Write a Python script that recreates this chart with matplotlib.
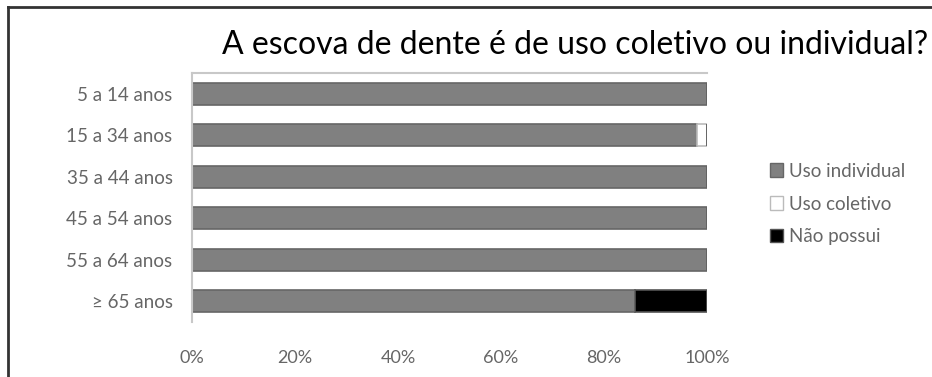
import matplotlib.pyplot as plt
import numpy as np
from matplotlib.patches import Patch
from matplotlib.lines import Line2D

plt.rcParams['font.family'] = ['Lato', 'DejaVu Sans']

faixas = ['5 a 14 anos', '15 a 34 anos', '35 a 44 anos',
          '45 a 54 anos', '55 a 64 anos', '≥ 65 anos']
uso_individual = [100, 98, 100, 100, 100, 86]
uso_coletivo = [0, 2, 0, 0, 0, 0]
nao_possui = [0, 0, 0, 0, 0, 14]

fig = plt.figure(figsize=(9.32, 3.77), dpi=100)
ax = fig.add_axes([192 / 932, 1 - 322 / 377, 515 / 932, 249 / 377])

y = np.arange(len(faixas))
h = 0.54
ind = np.array(uso_individual)
col = np.array(uso_coletivo)
nao = np.array(nao_possui)

ax.barh(y, ind, height=h, color='#808080', edgecolor='#666666', linewidth=1.2,
        label='Uso individual')
ax.barh(y, col, left=ind, height=h, color='white', edgecolor='#bbbbbb',
        linewidth=1.2, label='Uso coletivo')
ax.barh(y, nao, left=ind + col, height=h, color='black', edgecolor='#555555',
        linewidth=1.2, label='Não possui')

ax.set_xlim(0, 100)
ax.set_ylim(len(faixas) - 0.5, -0.5)
ax.set_yticks(y)
ax.set_yticklabels(faixas, fontsize=13.5, color='#666666')
ax.set_xticks(np.arange(0, 101, 20))
ax.set_xticklabels([f'{v}%' for v in range(0, 101, 20)], fontsize=13,
                   color='#666666')
ax.tick_params(axis='both', length=0)
ax.tick_params(axis='x', pad=20)
ax.tick_params(axis='y', pad=14)

for s in ['right', 'bottom']:
    ax.spines[s].set_visible(False)
ax.spines['top'].set_color('#c8c8c8')
ax.spines['left'].set_color('#c8c8c8')
ax.spines['top'].set_linewidth(1.5)
ax.spines['left'].set_linewidth(1.5)

fig.text(222 / 932, 1 - 45 / 377, 'A escova de dente é de uso coletivo ou individual?',
         fontsize=23, color='black', va='center', ha='left')

handles = [Patch(facecolor='#808080', edgecolor='#666666', label='Uso individual'),
           Patch(facecolor='white', edgecolor='#bbbbbb', label='Uso coletivo'),
           Patch(facecolor='black', edgecolor='#555555', label='Não possui')]
leg = fig.legend(handles=handles, loc='center left',
                 bbox_to_anchor=(753 / 932, 1 - 204 / 377), frameon=False,
                 fontsize=13.5, handlelength=0.7, handleheight=0.7,
                 handletextpad=0.3, labelspacing=0.85, labelcolor='#666666')

# frame around the chart (only the left and top edges show)
fig.add_artist(Line2D([8 / 932, 8 / 932], [0, 1 - 7 / 377], color='#333333',
                      linewidth=2, transform=fig.transFigure))
fig.add_artist(Line2D([8 / 932, 1], [1 - 7 / 377, 1 - 7 / 377], color='#333333',
                      linewidth=2, transform=fig.transFigure))

fig.savefig('out.png', dpi=100, facecolor='white')
